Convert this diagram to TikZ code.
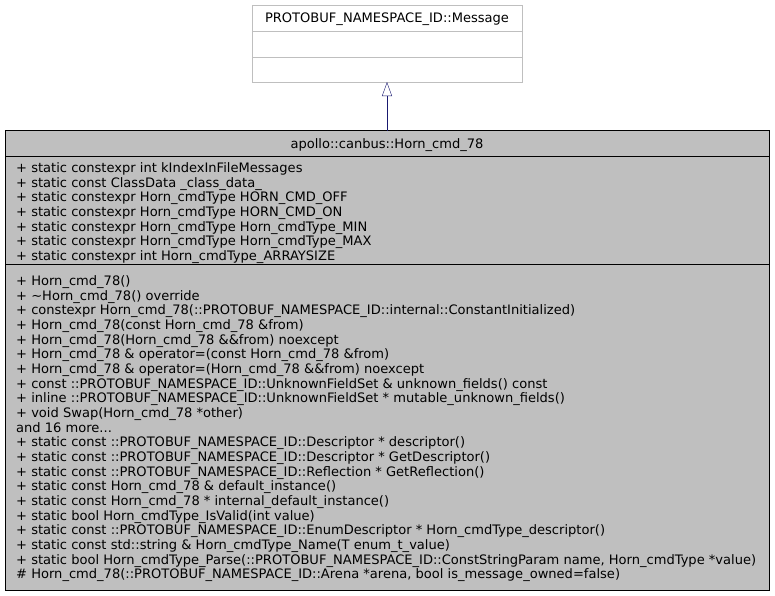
\documentclass[tikz,border=0pt]{standalone}
\usepackage{fontspec}
\setmainfont{DejaVu Sans}
\usetikzlibrary{arrows.meta}
\definecolor{boxgrey}{HTML}{BFBFBF}
\definecolor{edgegrey}{HTML}{BFBFBF}
\definecolor{navyline}{HTML}{191970}
\begin{document}
\begin{tikzpicture}[x=1pt,y=-1pt,
  txt/.style={anchor=base west,inner sep=0pt,font=\fontsize{13.05}{15}\selectfont},
  ttl/.style={anchor=base,inner sep=0pt,font=\fontsize{13.05}{15}\selectfont}]
\useasboundingbox (0,0) rectangle (775,595);
% base class
\draw[edgegrey,fill=white] (252,5) rectangle (522,82);
\draw[edgegrey] (252,31.5) -- (522,31.5);
\draw[edgegrey] (252,57) -- (522,57);
\node[ttl] (base) at (387,22.5) {PROTOBUF\_NAMESPACE\_ID::Message};
\coordinate (baseb) at (387,82);
% main class
\draw[black,fill=boxgrey] (5.5,130.5) rectangle (769,590);
\draw[black] (5.5,156) -- (769,156);
\draw[black] (5.5,264) -- (769,264);
\node[ttl] (main) at (387,148) {apollo::canbus::Horn\_cmd\_78};
\coordinate (maint) at (387,130.5);
\draw[navyline,-{Triangle[open,length=14pt,width=10pt]}] (maint) -- (baseb);
% attributes
\foreach \t [count=\i from 0] in {
 {+ static constexpr int kIndexInFileMessages},
 {+ static const ClassData \_class\_data\_},
 {+ static constexpr Horn\_cmdType HORN\_CMD\_OFF},
 {+ static constexpr Horn\_cmdType HORN\_CMD\_ON},
 {+ static constexpr Horn\_cmdType Horn\_cmdType\_MIN},
 {+ static constexpr Horn\_cmdType Horn\_cmdType\_MAX},
 {+ static constexpr int Horn\_cmdType\_ARRAYSIZE}}
 \node[txt] (a\i) at (16,172.5+14.67*\i) {\t};
% methods
\foreach \t [count=\i from 0] in {
 {+ Horn\_cmd\_78()},
 {+ \textasciitilde Horn\_cmd\_78() override},
 {+ constexpr Horn\_cmd\_78(::PROTOBUF\_NAMESPACE\_ID::internal::ConstantInitialized)},
 {+ Horn\_cmd\_78(const Horn\_cmd\_78 \&from)},
 {+ Horn\_cmd\_78(Horn\_cmd\_78 \&\&from) noexcept},
 {+ Horn\_cmd\_78 \& operator=(const Horn\_cmd\_78 \&from)},
 {+ Horn\_cmd\_78 \& operator=(Horn\_cmd\_78 \&\&from) noexcept},
 {+ const ::PROTOBUF\_NAMESPACE\_ID::UnknownFieldSet \& unknown\_fields() const},
 {+ inline ::PROTOBUF\_NAMESPACE\_ID::UnknownFieldSet * mutable\_unknown\_fields()},
 {+ void Swap(Horn\_cmd\_78 *other)},
 {and 16 more.{}.{}.},
 {+ static const ::PROTOBUF\_NAMESPACE\_ID::Descriptor * descriptor()},
 {+ static const ::PROTOBUF\_NAMESPACE\_ID::Descriptor * GetDescriptor()},
 {+ static const ::PROTOBUF\_NAMESPACE\_ID::Reflection * GetReflection()},
 {+ static const Horn\_cmd\_78 \& default\_instance()},
 {+ static const Horn\_cmd\_78 * internal\_default\_instance()},
 {+ static bool Horn\_cmdType\_IsValid(int value)},
 {+ static const ::PROTOBUF\_NAMESPACE\_ID::EnumDescriptor * Horn\_cmdType\_descriptor()},
 {+ static const std::string \& Horn\_cmdType\_Name(T enum\_t\_value)},
 {+ static bool Horn\_cmdType\_Parse(::PROTOBUF\_NAMESPACE\_ID::ConstStringParam name, Horn\_cmdType *value)},
 {\# Horn\_cmd\_78(::PROTOBUF\_NAMESPACE\_ID::Arena *arena, bool is\_message\_owned=false)}}
 \node[txt] (m\i) at (16,285.5+14.67*\i) {\t};
\end{tikzpicture}
\end{document}
